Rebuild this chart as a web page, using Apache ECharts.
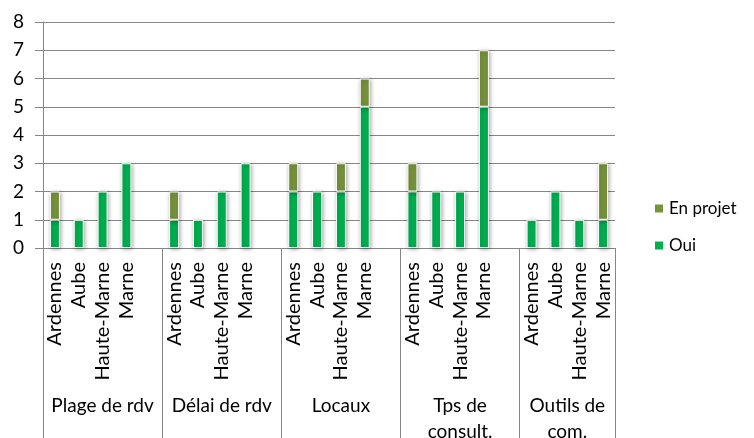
<!DOCTYPE html>
<html>
<head>
<meta charset="utf-8">
<script src="https://cdn.jsdelivr.net/npm/echarts@6/dist/echarts.min.js"></script>
<style>
  html, body { margin: 0; padding: 0; background: #fff; }
  #chart { width: 754px; height: 438px; }
</style>
</head>
<body>
<div id="chart"></div>
<script>
// groupes et départements
var groups = ['Plage de rdv', 'Délai de rdv', 'Locaux', 'Tps de\nconsult.', 'Outils de\ncom.'];
var depts = ['Ardennes', 'Aube', 'Haute-Marne', 'Marne'];

// valeurs par groupe (Ardennes, Aube, Haute-Marne, Marne)
var oui = [
  [1, 1, 2, 3],
  [1, 1, 2, 3],
  [2, 2, 2, 5],
  [2, 2, 2, 5],
  [1, 2, 1, 1]
];
var enProjet = [
  [1, 0, 0, 0],
  [1, 0, 0, 0],
  [1, 0, 1, 1],
  [1, 0, 0, 2],
  [0, 0, 0, 2]
];

var yTicks = [0, 1, 2, 3, 4, 5, 6, 7, 8];

// aplatir en 24 cases (un blanc entre chaque groupe)
var cats = [], ouiData = [], projData = [];
var groupBounds = [0], groupCenters = [];
groups.forEach(function (g, gi) {
  var start = cats.length;
  depts.forEach(function (d, di) {
    cats.push(d);
    ouiData.push(oui[gi][di] || '-');
    projData.push(enProjet[gi][di] || '-');
  });
  if (gi < groups.length - 1) {
    cats.push('');
    ouiData.push('-');
    projData.push('-');
  }
  groupBounds.push(cats.length);
  groupCenters.push((start + cats.length) / 2);
});

var font = 'Lato, "Noto Sans", sans-serif';
var gray = '#868686';
var barStyle = function (color) {
  return {
    color: color,
    borderColor: '#fff',
    borderWidth: 1,
    shadowBlur: 4,
    shadowColor: 'rgba(0,0,0,0.35)',
    shadowOffsetX: 1,
    shadowOffsetY: 1
  };
};

var myChart = echarts.init(document.getElementById('chart'));
myChart.setOption({
  animation: false,
  textStyle: { fontFamily: font, color: '#000' },
  grid: {
    left: 43, right: 139, top: 22, bottom: 190,
    containLabel: false,
    outerBoundsMode: 'none'
  },
  legend: {
    orient: 'vertical',
    left: 648,
    top: 195,
    itemGap: 20,
    itemWidth: 10,
    itemHeight: 10,
    icon: 'rect',
    data: ['En projet', 'Oui'],
    textStyle: { fontFamily: font, fontSize: 17, color: '#000' }
  },
  xAxis: [
    {
      type: 'category',
      data: cats,
      boundaryGap: true,
      axisLine: { lineStyle: { color: gray } },
      axisTick: { interval: 0, length: 132, lineStyle: { color: gray } },
      axisLabel: {
        interval: 0,
        rotate: 90,
        margin: 14,
        fontFamily: font,
        fontSize: 20,
        color: '#000'
      }
    },
    {
      type: 'value',
      position: 'bottom',
      min: 0,
      max: cats.length,
      splitLine: { show: false },
      axisLine: { show: false },
      axisTick: {
        show: true,
        length: 190,
        customValues: groupBounds,
        lineStyle: { color: gray }
      },
      axisLabel: {
        customValues: groupCenters,
        margin: 145,
        fontFamily: font,
        fontSize: 19,
        lineHeight: 26,
        color: '#000',
        formatter: function (v) {
          var i = groupCenters.indexOf(v);
          return i >= 0 ? groups[i] : '';
        }
      }
    }
  ],
  yAxis: {
    type: 'value',
    min: 0,
    max: 8,
    interval: 1,
    axisLine: { show: true, lineStyle: { color: gray } },
    axisTick: { show: true, length: 8, lineStyle: { color: gray } },
    axisLabel: {
      margin: 19,
      fontFamily: font,
      fontSize: 19,
      color: '#000',
      formatter: function (v) { return yTicks.indexOf(v) >= 0 ? String(v) : ''; }
    },
    splitLine: { lineStyle: { color: gray, width: 1 } }
  },
  series: [
    {
      name: 'Oui',
      type: 'bar',
      stack: 'total',
      barWidth: 10,
      itemStyle: barStyle('#00B050'),
      data: ouiData
    },
    {
      name: 'En projet',
      type: 'bar',
      stack: 'total',
      barWidth: 10,
      itemStyle: barStyle('#77933C'),
      data: projData
    }
  ]
});
</script>
</body>
</html>
